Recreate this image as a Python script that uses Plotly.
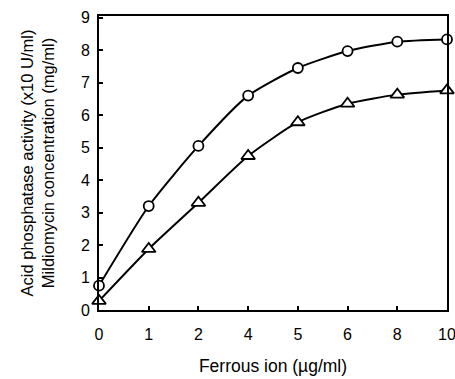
import plotly.graph_objects as go

categories = ["0", "1", "2", "4", "5", "6", "8", "10"]
acid_phosphatase = [0.75, 3.2, 5.05, 6.6, 7.45, 7.97, 8.26, 8.33]
mildiomycin = [0.28, 1.88, 3.3, 4.74, 5.78, 6.35, 6.63, 6.76]
y_ticks = [0, 1, 2, 3, 4, 5, 6, 7, 8, 9]

font_family = "Liberation Sans, Arial, sans-serif"

fig = go.Figure()
fig.add_trace(go.Scatter(
    x=categories, y=acid_phosphatase, mode="lines+markers",
    line=dict(color="black", width=2, shape="spline", smoothing=0.6),
    marker=dict(symbol="circle", size=10, color="white",
                line=dict(color="black", width=1.8)),
    showlegend=False, cliponaxis=False))
fig.add_trace(go.Scatter(
    x=categories, y=mildiomycin, mode="lines+markers",
    line=dict(color="black", width=2, shape="spline", smoothing=0.6),
    marker=dict(symbol="triangle-up", size=12, color="white",
                line=dict(color="black", width=1.8)),
    showlegend=False, cliponaxis=False))

fig.update_layout(
    width=455, height=379,
    margin=dict(l=99, r=8, t=16, b=69),
    paper_bgcolor="white", plot_bgcolor="white",
    font=dict(family=font_family, color="black", size=16),
    xaxis=dict(
        type="category", range=[0, 7], showgrid=False, zeroline=False,
        automargin=False,
        showline=True, linecolor="black", linewidth=2, mirror=True,
        ticks="inside", ticklen=4, tickwidth=1.5, tickcolor="black",
        tickfont=dict(size=16), ticklabelstandoff=9,
        title=dict(text="Ferrous ion (\u00b5g/ml)", font=dict(size=17.5), standoff=18),
    ),
    yaxis=dict(
        range=[0, 9.05], tickvals=y_ticks, showgrid=False, zeroline=False,
        automargin=False,
        showline=True, linecolor="black", linewidth=2, mirror=True,
        ticks="inside", ticklen=4, tickwidth=1.5, tickcolor="black",
        tickfont=dict(size=16), ticklabelstandoff=4,
        title=dict(text="Acid phosphatase activity (x10 U/ml)<br>Mildiomycin concentration (mg/ml)",
                   font=dict(size=16.5), standoff=22),
    ),
)

fig.write_html("out.html")
